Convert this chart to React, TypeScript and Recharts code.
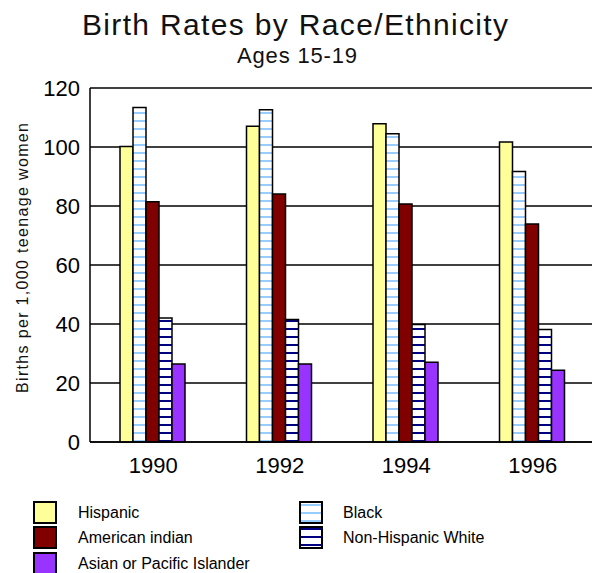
import { BarChart, Bar, XAxis, YAxis, CartesianGrid } from 'recharts';

// 연도별 10대(15-19세) 출생률 — 그림에서 읽은 값
const years = ['1990', '1992', '1994', '1996'];
const hispanic = [100.2, 107.0, 107.9, 101.7];
const black = [113.4, 112.6, 104.5, 91.7];
const americanIndian = [81.4, 84.1, 80.7, 73.9];
const nonHispanicWhite = [42.0, 41.5, 39.8, 38.1];
const asianPacific = [26.4, 26.4, 27.0, 24.3];
const yTicks = [0, 20, 40, 60, 80, 100, 120];

const FONT = '"Liberation Sans", Arial, sans-serif';

const COLORS = {
    hispanic: '#ffff99',
    blackStripe: '#99ccff',
    amIndian: '#800000',
    whiteStripe: '#000080',
    asian: '#9933ff',
};

const data = years.map((year, i) => ({
    year,
    hispanic: hispanic[i],
    black: black[i],
    americanIndian: americanIndian[i],
    nonHispanicWhite: nonHispanicWhite[i],
    asianPacific: asianPacific[i],
}));

const legendItems = [
    { name: 'Hispanic', fill: COLORS.hispanic, col: 0, row: 0 },
    { name: 'American indian', fill: COLORS.amIndian, col: 0, row: 1 },
    { name: 'Asian or Pacific Islander', fill: COLORS.asian, col: 0, row: 2 },
    { name: 'Black', fill: 'url(#lgBlack)', col: 1, row: 0 },
    { name: 'Non-Hispanic White', fill: 'url(#lgWhite)', col: 1, row: 1 },
];

function Stripes({ id, color }: { id: string; color: string }) {
    return (
        <pattern id={id} patternUnits="userSpaceOnUse" width={8} height={8}>
            <rect x={0} y={0} width={8} height={8} fill="#fff" />
            <rect x={0} y={0} width={8} height={2} fill={color} />
        </pattern>
    );
}

export default function App() {
    const squareX = [34, 300];
    const textX = [78, 343];
    const rowY = [502, 527, 553];

    return (
        <div style={{ position: 'absolute', left: 0, top: 0, width: 592, height: 573, overflow: 'hidden', background: '#fff', fontFamily: FONT }}>
            <BarChart
                width={596}
                height={573}
                data={data}
                margin={{ top: 88, right: 0, bottom: 91, left: 0 }}
                barCategoryGap={30}
                barGap={0}
            >
                <defs>
                    <Stripes id="barBlack" color={COLORS.blackStripe} />
                    <Stripes id="barWhite" color={COLORS.whiteStripe} />
                </defs>
                <CartesianGrid vertical={false} stroke="#000" strokeWidth={1.5} strokeOpacity={1} />
                <XAxis
                    dataKey="year"
                    height={40}
                    axisLine={{ stroke: '#000', strokeWidth: 1.5 }}
                    tickLine={false}
                    tickSize={6}
                    tickMargin={9}
                    tick={{ fontSize: 22, fill: '#000', fontFamily: FONT }}
                />
                <YAxis
                    width={90}
                    domain={[0, 120]}
                    ticks={yTicks}
                    interval={0}
                    axisLine={{ stroke: '#000', strokeWidth: 1.5 }}
                    tickLine={false}
                    tickSize={6}
                    tickMargin={4}
                    tick={{ fontSize: 22, fill: '#000', fontFamily: FONT }}
                />
                <Bar dataKey="hispanic" fill={COLORS.hispanic} stroke="#000" strokeWidth={1.5} isAnimationActive={false} />
                <Bar dataKey="black" fill="url(#barBlack)" stroke="#000" strokeWidth={1.5} isAnimationActive={false} />
                <Bar dataKey="americanIndian" fill={COLORS.amIndian} stroke="#000" strokeWidth={1.5} isAnimationActive={false} />
                <Bar dataKey="nonHispanicWhite" fill="url(#barWhite)" stroke="#000" strokeWidth={1.5} isAnimationActive={false} />
                <Bar dataKey="asianPacific" fill={COLORS.asian} stroke="#000" strokeWidth={1.5} isAnimationActive={false} />
            </BarChart>

            {/* 제목, 축 제목, 범례 */}
            <svg width={592} height={573} style={{ position: 'absolute', left: 0, top: 0, pointerEvents: 'none' }}>
                <defs>
                    <Stripes id="lgBlack" color={COLORS.blackStripe} />
                    <Stripes id="lgWhite" color={COLORS.whiteStripe} />
                </defs>
                <text x={295} y={35} textAnchor="middle" fontSize={30} fill="#111" fontFamily={FONT} textLength={426} lengthAdjust="spacing">
                    Birth Rates by Race/Ethnicity
                </text>
                <text x={297} y={63} textAnchor="middle" fontSize={22} fill="#111" fontFamily={FONT} textLength={120} lengthAdjust="spacing">
                    Ages 15-19
                </text>
                <text transform="translate(28,258) rotate(-90)" textAnchor="middle" fontSize={16} fill="#111" fontFamily={FONT} textLength={270} lengthAdjust="spacing">
                    Births per 1,000 teenage women
                </text>
                {legendItems.map((it) => (
                    <g key={it.name}>
                        <rect x={squareX[it.col]} y={rowY[it.row]} width={22} height={21} fill={it.fill} stroke="#000" strokeWidth={2} />
                        <text x={textX[it.col]} y={rowY[it.row] + 16} fontSize={16} fill="#000" fontFamily={FONT}>
                            {it.name}
                        </text>
                    </g>
                ))}
            </svg>
        </div>
    );
}
